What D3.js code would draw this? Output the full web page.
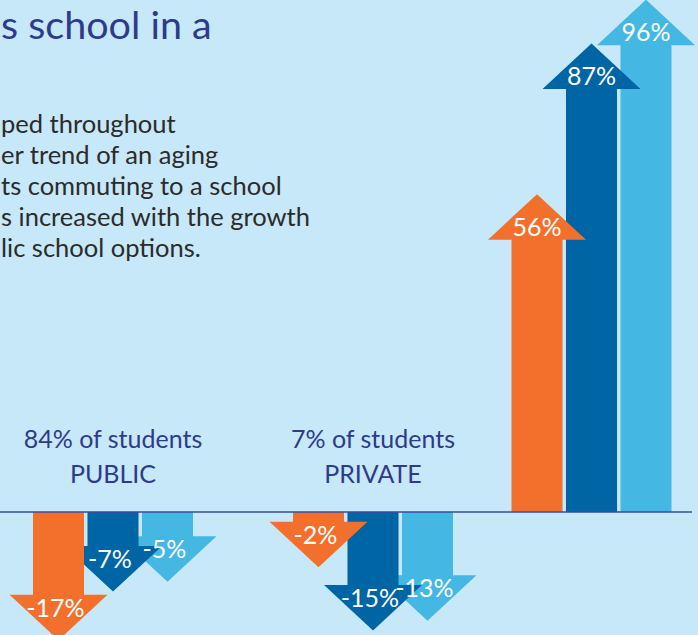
<!DOCTYPE html>
<html>
<head>
<meta charset="utf-8">
<script src="https://cdn.jsdelivr.net/npm/d3@7"></script>
<style>
  html, body { margin: 0; padding: 0; background: #c6e8f8; }
  svg { display: block; font-family: Lato, "Open Sans", sans-serif; }
</style>
</head>
<body>
<svg id="chart" width="698" height="635"></svg>
<script>
// School sectors and their share of students
const groups = ["PUBLIC", "PRIVATE", "OTHER"];
const groupShare = ["84% of students", "7% of students", ""];
const groupName = ["PUBLIC", "PRIVATE", ""];

// Three series of percentage change per sector
const seriesNames = ["a", "b", "c"];
const seriesA = [-17, -2, 56];
const seriesB = [-7, -15, 87];
const seriesC = [-5, -13, 96];
const seriesColors = ["#f2702c", "#0065a4", "#44b8e3"];

// Headline and body copy
const titleText = "s school in a";
const bodyLines = [
  "ped throughout",
  "er trend of an aging",
  "ts commuting to a school",
  "s increased with the growth",
  "lic school options."
];

const W = 698, H = 635;
const svg = d3.select("#chart");

svg.append("rect").attr("width", W).attr("height", H).attr("fill", "#c6e8f8");

// Scales
const baseY = 512;
const y = d3.scaleLinear().domain([0, 100]).range([0, 486.3]); // shaft length per percent
const x0 = d3.scaleOrdinal().domain(groups).range([113, 373, 591.5]);
const x1 = d3.scaleBand().domain(seriesNames).range([-80, 80]).paddingInner(0.064);
const color = d3.scaleOrdinal().domain(seriesNames).range(seriesColors);

const headHalf = 49, headH = 45.5;

const rows = [];
groups.forEach((g, gi) => {
  [seriesA, seriesB, seriesC].forEach((s, si) => {
    rows.push({ group: g, series: seriesNames[si], value: s[gi], order: si });
  });
});

// Arrow outline: shaft grows from the baseline, head appended at the end
function arrowPath(d) {
  const left = x0(d.group) + x1(d.series);
  const w = x1.bandwidth();
  const cx = left + w / 2;
  const dir = d.value >= 0 ? -1 : 1;
  const hb = baseY + dir * y(Math.abs(d.value));
  const tip = hb + dir * headH;
  const p = d3.path();
  p.moveTo(left, baseY);
  p.lineTo(left, hb);
  p.lineTo(cx - headHalf, hb);
  p.lineTo(cx, tip);
  p.lineTo(cx + headHalf, hb);
  p.lineTo(left + w, hb);
  p.lineTo(left + w, baseY);
  p.closePath();
  return p.toString();
}

// Draw later series first so earlier ones sit on top
const drawOrder = rows.slice().sort((a, b) => b.order - a.order);

svg.append("g").selectAll("path")
  .data(drawOrder)
  .join("path")
  .attr("d", arrowPath)
  .attr("fill", d => color(d.series));

svg.append("g").selectAll("text")
  .data(drawOrder)
  .join("text")
  .attr("x", d => x0(d.group) + x1(d.series) + x1.bandwidth() / 2 + (d.value < 0 ? -3 : 0))
  .attr("y", d => {
    const dir = d.value >= 0 ? -1 : 1;
    const hb = baseY + dir * y(Math.abs(d.value));
    return d.value >= 0 ? hb - 4 : hb + 22;
  })
  .attr("text-anchor", "middle")
  .attr("fill", "#ffffff")
  .attr("font-size", 25)
  .text(d => d.value + "%");

// Zero line
svg.append("line")
  .attr("x1", 0).attr("x2", 692)
  .attr("y1", baseY).attr("y2", baseY)
  .attr("stroke", "#3b4ba0")
  .attr("stroke-width", 1.5);

// Sector headings
const heads = svg.append("g").attr("fill", "#2e3a8c").attr("text-anchor", "middle").attr("font-size", 25);
groups.forEach((g, i) => {
  if (!groupShare[i]) return;
  heads.append("text").attr("x", x0(g)).attr("y", 448).text(groupShare[i]);
  heads.append("text").attr("x", x0(g)).attr("y", 483).text(groupName[i]);
});

// Title
svg.append("text")
  .attr("x", 1).attr("y", 39)
  .attr("fill", "#2e3a8c")
  .attr("font-size", 39.5)
  .text(titleText);

// Body copy
svg.append("g").attr("fill", "#2b2b2b").attr("font-size", 25.5)
  .selectAll("text")
  .data(bodyLines)
  .join("text")
  .attr("x", 1)
  .attr("y", (d, i) => 133 + i * 31)
  .text(d => d);
</script>
</body>
</html>
